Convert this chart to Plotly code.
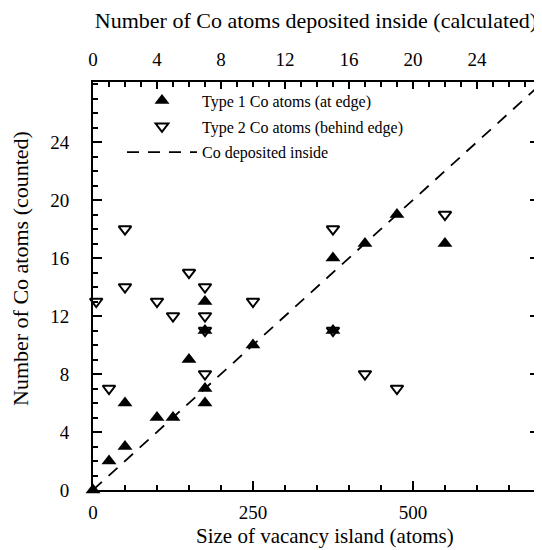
import plotly.graph_objects as go

# Type 1 Co atoms (at edge)
t1_size = [0, 25, 50, 50, 100, 125, 150, 175, 175, 175, 175, 250, 375, 375, 425, 475, 550]
t1_count = [0, 2, 3, 6, 5, 5, 9, 6, 7, 11, 13, 10, 16, 11, 17, 19, 17]

# Type 2 Co atoms (behind edge)
t2_size = [5, 25, 50, 50, 100, 125, 150, 175, 175, 175, 175, 250, 375, 375, 425, 475, 550]
t2_count = [13, 7, 18, 14, 13, 12, 15, 14, 12, 11, 8, 13, 18, 11, 8, 7, 19]

# Co deposited inside (calculated): coverage per vacancy-island atom
coverage = 0.04
line_size = [0, 700]
line_calc = [coverage * s for s in line_size]

y_ticks = [0, 4, 8, 12, 16, 20, 24]
x_ticks = [0, 250, 500]
top_ticks = [0, 4, 8, 12, 16, 20, 24]

x_max = 697
y_max = 28.14

FONT = "Liberation Serif"

fig = go.Figure()

fig.add_trace(go.Scatter(
    x=t1_size, y=t1_count, mode="markers", name="Type 1 Co atoms (at edge)",
    marker=dict(symbol="triangle-up", size=13, color="black", line=dict(width=0)),
    legendgroup="a", cliponaxis=False,
))
fig.add_trace(go.Scatter(
    x=t2_size, y=t2_count, mode="markers", name="Type 2 Co atoms (behind edge)",
    marker=dict(symbol="triangle-down-open", size=11, color="black", line=dict(width=2)),
    legendgroup="b", cliponaxis=False,
))
fig.add_trace(go.Scatter(
    x=line_calc, y=line_calc, mode="lines", name="Co deposited inside",
    line=dict(color="black", width=1.8, dash="12px,9px"),
    xaxis="x2", legendgroup="c",
))

tickfont = dict(family=FONT, size=19, color="black")
titlefont = dict(family=FONT, size=22, color="black")
minor_common = dict(ticks="inside", ticklen=5, tickwidth=1.5, tickcolor="black", showgrid=False)

fig.update_layout(
    width=534, height=542,
    margin=dict(l=85, r=3, t=74, b=60, autoexpand=False),
    paper_bgcolor="white", plot_bgcolor="white",
    font=dict(family=FONT, color="black"),
    showlegend=True,
    legend=dict(
        x=0.065, y=0.996, xanchor="left", yanchor="top",
        font=dict(family=FONT, size=16, color="black"),
        bgcolor="rgba(0,0,0,0)", borderwidth=0,
        tracegroupgap=2, itemwidth=70,
    ),
    xaxis=dict(
        range=[0, x_max], showgrid=False, zeroline=False, automargin=False,
        showline=True, linecolor="black", linewidth=2, mirror=False,
        ticks="inside", ticklen=9, tickwidth=1.5, tickcolor="black",
        tickvals=x_ticks, tickfont=tickfont, ticklabelstandoff=4,
        minor=dict(dtick=50, tick0=0, **minor_common),
    ),
    xaxis2=dict(
        range=[0, coverage * x_max], overlaying="x", side="top", anchor="y",
        showgrid=False, zeroline=False, automargin=False,
        showline=True, linecolor="black", linewidth=2,
        ticks="inside", ticklen=7, tickwidth=1.5, tickcolor="black",
        tickvals=top_ticks, tickfont=tickfont, ticklabelstandoff=6,
        minor=dict(dtick=1, tick0=0, **minor_common),
        title=dict(text="Number of Co atoms deposited inside (calculated)", font=titlefont, standoff=18),
    ),
    yaxis=dict(
        range=[0, y_max], showgrid=False, zeroline=False, automargin=False,
        showline=True, linecolor="black", linewidth=2, mirror="ticks",
        ticks="inside", ticklen=9, tickwidth=1.5, tickcolor="black",
        tickvals=y_ticks, tickfont=tickfont, ticklabelstandoff=18,
        minor=dict(dtick=1, tick0=0, **minor_common),
    ),
    annotations=[
        dict(text="Size of vacancy island (atoms)", xref="paper", yref="paper",
             x=0.520, y=-0.113, xanchor="center", yanchor="middle",
             showarrow=False, font=dict(family=FONT, size=21, color="black")),
        dict(text="Number of Co atoms (counted)", xref="paper", yref="paper",
             x=-0.1614, y=0.5417, xanchor="center", yanchor="middle", textangle=-90,
             showarrow=False, font=titlefont),
    ],
)

fig.write_html("out.html")
